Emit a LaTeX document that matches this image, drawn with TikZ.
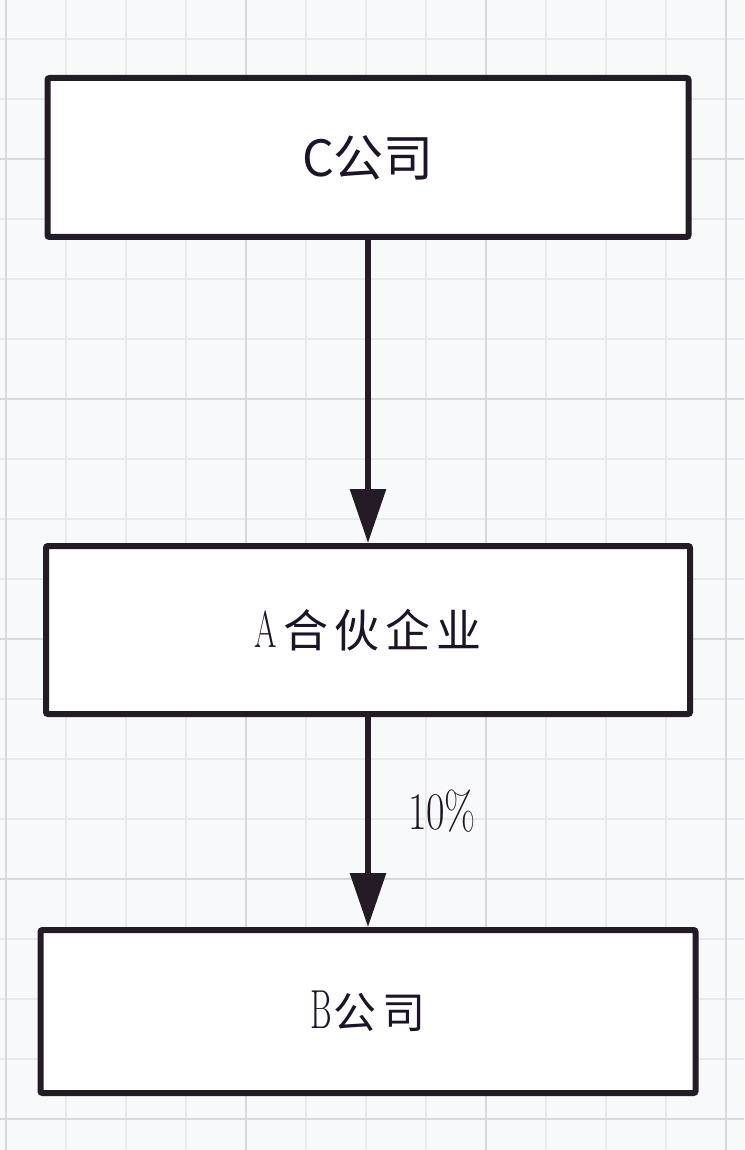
\documentclass[tikz,border=0pt]{standalone}
\usepackage{fontspec}
\usepackage{graphicx}
\newfontfamily\cjk{Noto Sans CJK SC}
\usetikzlibrary{arrows.meta}
\definecolor{bgcol}{HTML}{F8F9FB}
\definecolor{minorgrid}{HTML}{E7E9ED}
\definecolor{majorgrid}{HTML}{D6D9DE}
\definecolor{inkcol}{HTML}{231C26}
\definecolor{txtcol}{HTML}{1E1428}
\tikzset{
  entity/.style={draw=inkcol, line width=6pt, fill=white, rounded corners=2pt,
    inner sep=0pt, text=txtcol, align=center},
  flow/.style={draw=inkcol, line width=6pt,
    -{Triangle[length=54pt,width=35pt]}},
  pct/.style={text=txtcol, inner sep=0pt, font=\fontsize{53}{53}\selectfont}
}
\newcommand{\spc}{\hspace{6pt}}
\begin{document}
\begin{tikzpicture}[x=1pt,y=-1pt]
  \fill[bgcol] (0,0) rectangle (744,1150);
  \useasboundingbox (0,0) rectangle (744,1150);
  % minor grid
  \foreach \gx in {6,66,...,726} \draw[minorgrid, line width=1.2pt] (\gx,0) -- (\gx,1150);
  \foreach \gy in {39,99,...,1119} \draw[minorgrid, line width=1.2pt] (0,\gy) -- (744,\gy);
  % major grid
  \foreach \gx in {6,246,486,726} \draw[majorgrid, line width=1.4pt] (\gx,0) -- (\gx,1150);
  \foreach \gy in {159,399,639,879,1119} \draw[majorgrid, line width=1.4pt] (0,\gy) -- (744,\gy);

  \node[entity, minimum width=641pt, minimum height=159pt] (C) at (368,157.5)
    {\cjk\fontsize{50}{50}\selectfont C公司};
  \node[entity, minimum width=644pt, minimum height=168pt] (A) at (368,630)
    {\fontsize{52}{52}\selectfont\scalebox{0.62}[1]{A}\spc{\cjk\fontsize{45}{45}\selectfont 合\spc 伙\spc 企\spc 业}};
  \node[entity, minimum width=655pt, minimum height=163pt] (B) at (368,1011.5)
    {\fontsize{55}{55}\selectfont\scalebox{0.6}[1]{B}\hspace{2pt}{\cjk\fontsize{43}{43}\selectfont 公\spc 司}};

  \draw[flow] (C) -- (A);
  \draw[flow] (A) -- node[pct, pos=0.45, anchor=west, xshift=37pt] (p)
    {\scalebox{0.76}[1]{10\%}} (B);
\end{tikzpicture}
\end{document}
